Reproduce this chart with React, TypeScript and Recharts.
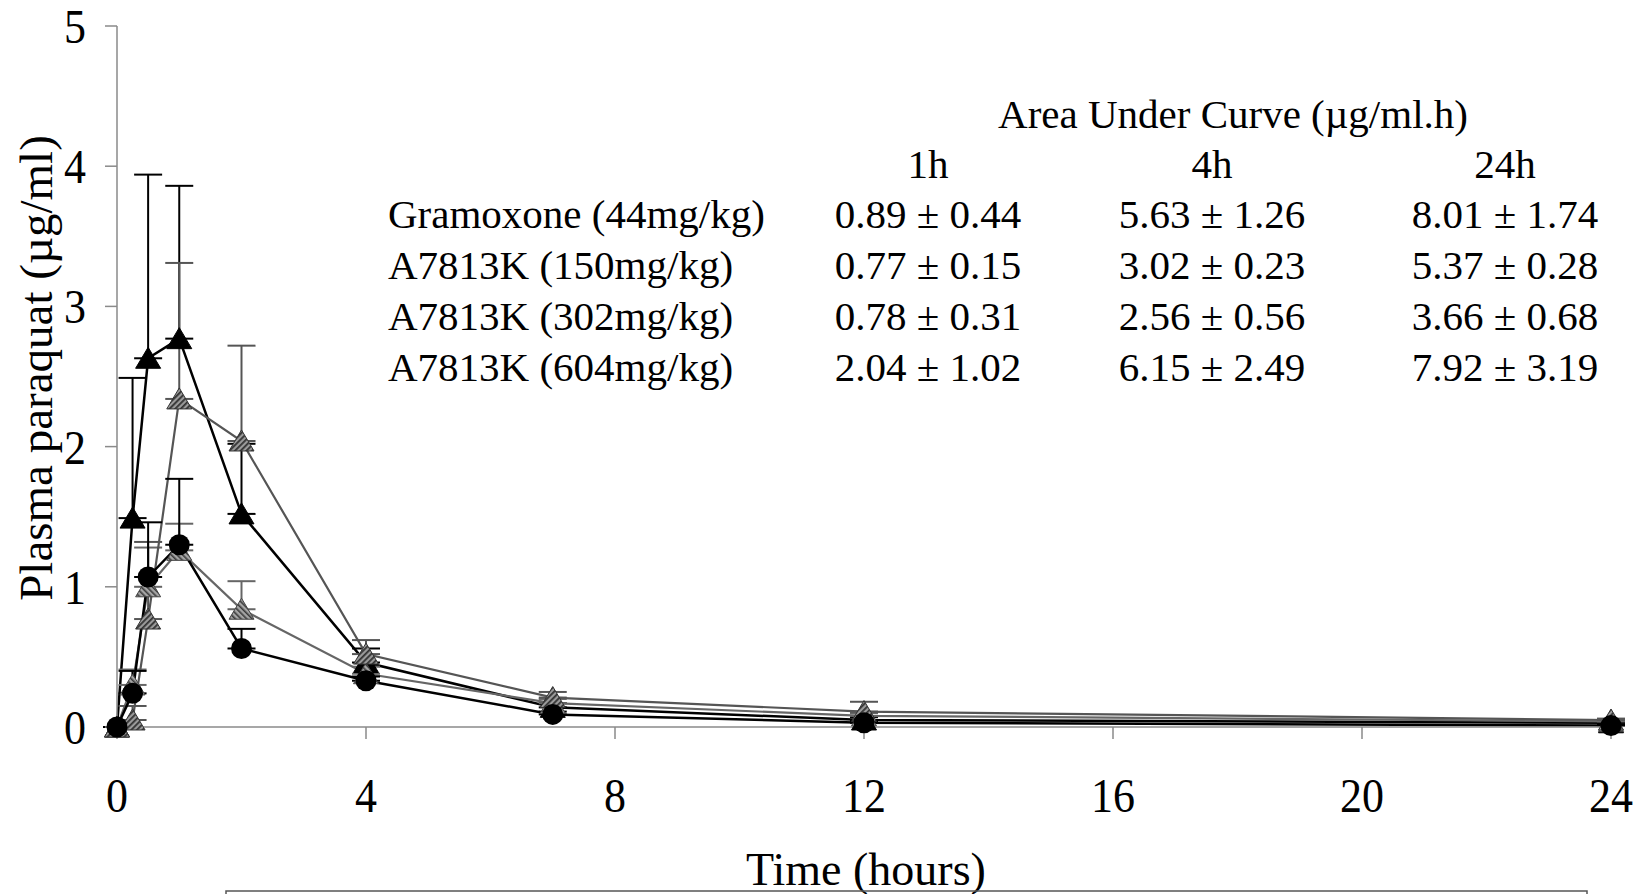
import { LineChart, Line, XAxis, YAxis, ErrorBar } from 'recharts';

// sampling times (hours)
const times = [0, 0.25, 0.5, 1, 2, 4, 7, 12, 24];

// mean plasma paraquat (µg/ml) per group, with upward SD
const gramoxone = [0, 0.05, 0.77, 2.34, 2.04, 0.52, 0.21, 0.11, 0.05];
const gramoxoneSd = [0, 0.1, 0.55, 0.97, 0.68, 0.1, 0.04, 0.07, 0.01];
const a150 = [0, 0.3, 1.0, 1.26, 0.84, 0.38, 0.17, 0.08, 0.04];
const a150Sd = [0, 0.11, 0.28, 0.19, 0.2, 0.05, 0.03, 0.02, 0.01];
const a302 = [0, 0.24, 1.07, 1.3, 0.56, 0.33, 0.09, 0.03, 0.01];
const a302Sd = [0, 0.16, 0.39, 0.47, 0.14, 0.03, 0.02, 0.01, 0.01];
const a604 = [0, 1.49, 2.63, 2.77, 1.52, 0.46, 0.14, 0.05, 0.03];
const a604Sd = [0, 1.0, 1.31, 1.09, 0.5, 0.1, 0.03, 0.02, 0.01];

const xTicks = [0, 4, 8, 12, 16, 20, 24];
const yTicks = [0, 1, 2, 3, 4, 5];

// AUC table
const aucTitle = 'Area Under Curve (µg/ml.h)';
const aucTimes = ['1h', '4h', '24h'];
const aucGroups = ['Gramoxone (44mg/kg)', 'A7813K (150mg/kg)', 'A7813K (302mg/kg)', 'A7813K (604mg/kg)'];
const aucValues = [
  ['0.89 ± 0.44', '5.63 ± 1.26', '8.01 ± 1.74'],
  ['0.77 ± 0.15', '3.02 ± 0.23', '5.37 ± 0.28'],
  ['0.78 ± 0.31', '2.56 ± 0.56', '3.66 ± 0.68'],
  ['2.04 ± 1.02', '6.15 ± 2.49', '7.92 ± 3.19'],
];

const data = times.map((t, i) => ({
  t,
  gramoxone: gramoxone[i],
  gramoxoneErr: [0, gramoxoneSd[i]],
  a150: a150[i],
  a150Err: [0, a150Sd[i]],
  a302: a302[i],
  a302Err: [0, a302Sd[i]],
  a604: a604[i],
  a604Err: [0, a604Sd[i]],
}));

const FONT = '"Liberation Serif", "Times New Roman", serif';
const AXIS = '#8a8a8a';
const STRETCH = 1.12;

// tick text, slightly tall like the original export
const XTick = (props: any) => {
  const { x, y, payload } = props;
  return (
    <text
      x={x}
      y={y}
      textAnchor="middle"
      fontSize={44}
      fontFamily={FONT}
      fill="#000"
      transform={`translate(${x} ${y}) scale(1 ${STRETCH}) translate(${-x} ${-y})`}
    >
      {payload.value}
    </text>
  );
};

const YTick = (props: any) => {
  const { x, y, payload } = props;
  const by = y + 17;
  return (
    <text
      x={x}
      y={by}
      textAnchor="end"
      fontSize={44}
      fontFamily={FONT}
      fill="#000"
      transform={`translate(${x} ${by}) scale(1 ${STRETCH}) translate(${-x} ${-by})`}
    >
      {payload.value}
    </text>
  );
};

const triangle = (fill: string, stroke: string) => (props: any) => {
  const { cx, cy, index } = props;
  if (cx == null || cy == null) return <g key={index} />;
  return (
    <path
      key={index}
      d={`M${cx},${cy - 11} L${cx + 12.5},${cy + 10} L${cx - 12.5},${cy + 10} Z`}
      fill={fill}
      stroke={stroke}
      strokeWidth={1}
    />
  );
};

const circle = (props: any) => {
  const { cx, cy, index } = props;
  if (cx == null || cy == null) return <g key={index} />;
  return <circle key={index} cx={cx} cy={cy} r={10.5} fill="#000" />;
};

const colX = [928, 1212, 1505];
const rowY = [228, 279, 330, 381];

export default function App() {
  return (
    <div style={{ position: 'absolute', left: 0, top: 0, width: 1637, height: 894, background: '#fff', overflow: 'hidden' }}>
      <svg width={0} height={0} style={{ position: 'absolute' }}>
        <defs>
          <pattern id="hatchA" width={4} height={4} patternUnits="userSpaceOnUse" patternTransform="rotate(45)">
            <rect width={4} height={4} fill="#9a9a9a" />
            <rect width={1.8} height={4} fill="#333" />
          </pattern>
          <pattern id="hatchB" width={4} height={4} patternUnits="userSpaceOnUse" patternTransform="rotate(-45)">
            <rect width={4} height={4} fill="#a5a5a5" />
            <rect width={1.6} height={4} fill="#3c3c3c" />
          </pattern>
        </defs>
      </svg>
      <LineChart width={1637} height={894} data={data} margin={{ top: 26, right: 26, bottom: 107, left: 0 }}>
        <XAxis
          dataKey="t"
          type="number"
          domain={[0, 24]}
          ticks={xTicks}
          interval={0}
          tick={<XTick />}
          tickSize={12}
          tickMargin={73}
          axisLine={{ stroke: AXIS, strokeWidth: 1.5 }}
          tickLine={{ stroke: AXIS, strokeWidth: 1.5 }}
          height={60}
        />
        <YAxis
          type="number"
          domain={[0, 5]}
          ticks={yTicks}
          interval={0}
          tick={<YTick />}
          tickSize={12}
          tickMargin={19}
          axisLine={{ stroke: AXIS, strokeWidth: 1.5 }}
          tickLine={{ stroke: AXIS, strokeWidth: 1.5 }}
          width={117}
        />
        <Line
          dataKey="a604"
          stroke="#000"
          strokeWidth={2.5}
          dot={triangle('#000', '#000')}
          isAnimationActive={false}
        >
          <ErrorBar dataKey="a604Err" direction="y" width={14} stroke="#000" strokeWidth={2} />
        </Line>
        <Line
          dataKey="a150"
          stroke="#666"
          strokeWidth={2.2}
          dot={triangle('url(#hatchB)', '#444')}
          isAnimationActive={false}
        >
          <ErrorBar dataKey="a150Err" direction="y" width={14} stroke="#666" strokeWidth={2} />
        </Line>
        <Line
          dataKey="gramoxone"
          stroke="#555"
          strokeWidth={2.2}
          dot={triangle('url(#hatchA)', '#333')}
          isAnimationActive={false}
        >
          <ErrorBar dataKey="gramoxoneErr" direction="y" width={14} stroke="#555" strokeWidth={2} />
        </Line>
        <Line
          dataKey="a302"
          stroke="#000"
          strokeWidth={2.5}
          dot={circle}
          isAnimationActive={false}
        >
          <ErrorBar dataKey="a302Err" direction="y" width={14} stroke="#000" strokeWidth={2} />
        </Line>
      </LineChart>

      <svg
        width={1637}
        height={894}
        style={{ position: 'absolute', left: 0, top: 0, pointerEvents: 'none' }}
        fontFamily={FONT}
      >
        <text x={52} y={368} fontSize={47} textAnchor="middle" transform="rotate(-90 52 368)">
          Plasma paraquat (µg/ml)
        </text>
        <text x={866} y={885} fontSize={46} textAnchor="middle">
          Time (hours)
        </text>
        <rect x={226} y={891} width={1361} height={30} fill="none" stroke="#555" strokeWidth={1.5} />

        <text x={1233} y={128} fontSize={41} textAnchor="middle">{aucTitle}</text>
        {aucTimes.map((h, j) => (
          <text key={h} x={colX[j]} y={178} fontSize={41} textAnchor="middle">{h}</text>
        ))}
        {aucGroups.map((g, i) => (
          <g key={g}>
            <text x={388} y={rowY[i]} fontSize={41}>{g}</text>
            {aucValues[i].map((v, j) => (
              <text key={j} x={colX[j]} y={rowY[i]} fontSize={41} textAnchor="middle">{v}</text>
            ))}
          </g>
        ))}
      </svg>
    </div>
  );
}
